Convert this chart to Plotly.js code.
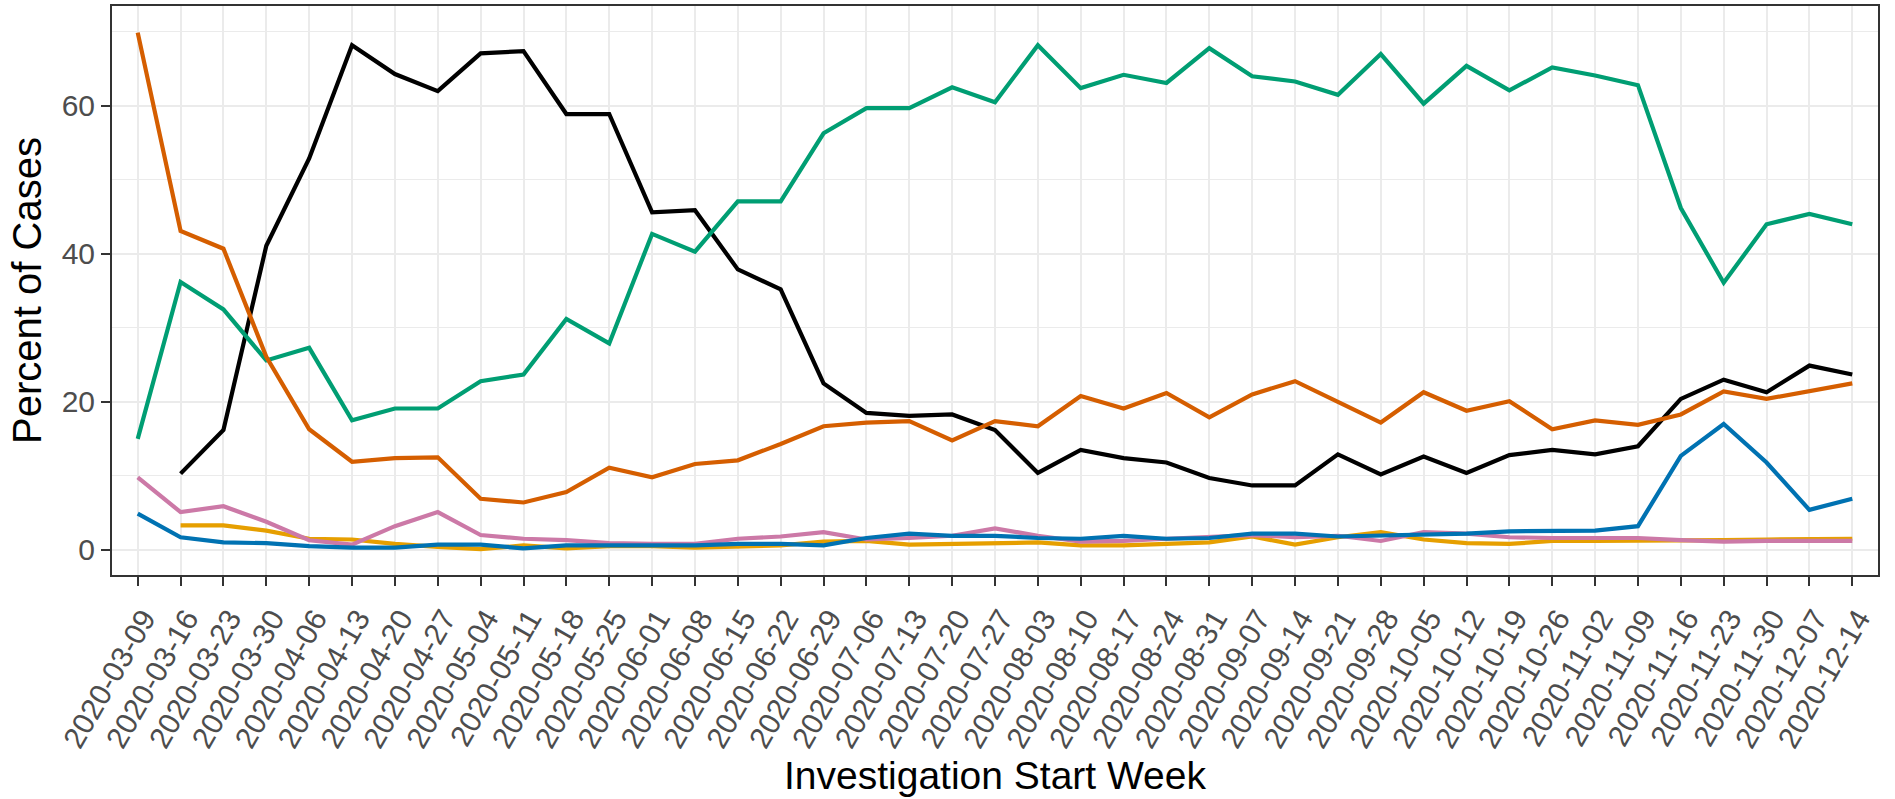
<!DOCTYPE html>
<html>
<head>
<meta charset="utf-8">
<script src="https://cdn.plot.ly/plotly-3.0.1.min.js"></script>
<style>
  html, body { margin: 0; padding: 0; background: #ffffff; }
  #chart { width: 1895px; height: 799px; }
</style>
</head>
<body>
<div id="chart"></div>
<script>
const weeks = ["2020-03-09","2020-03-16","2020-03-23","2020-03-30","2020-04-06","2020-04-13","2020-04-20","2020-04-27",
  "2020-05-04","2020-05-11","2020-05-18","2020-05-25","2020-06-01","2020-06-08","2020-06-15","2020-06-22","2020-06-29",
  "2020-07-06","2020-07-13","2020-07-20","2020-07-27","2020-08-03","2020-08-10","2020-08-17","2020-08-24","2020-08-31",
  "2020-09-07","2020-09-14","2020-09-21","2020-09-28","2020-10-05","2020-10-12","2020-10-19","2020-10-26","2020-11-02",
  "2020-11-09","2020-11-16","2020-11-23","2020-11-30","2020-12-07","2020-12-14"];

const blackSeries = [null, 10.3, 16.2, 41.1, 52.9, 68.2, 64.3, 62.0, 67.1, 67.4, 58.9, 58.9, 45.6, 45.9, 37.9, 35.2, 22.5,
  18.5, 18.1, 18.3, 16.2, 10.4, 13.5, 12.4, 11.8, 9.7, 8.7, 8.7, 12.9, 10.2, 12.6, 10.4, 12.8, 13.5, 12.9, 14.0, 20.4,
  23.0, 21.3, 24.9, 23.7];
const yellowSeries = [null, 3.3, 3.3, 2.6, 1.5, 1.4, 0.8, 0.4, 0.1, 0.6, 0.2, 0.5, 0.5, 0.3, 0.4, 0.6, 1.1, 1.2, 0.7,
  0.8, 1.0, 1.0, 0.6, 0.6, 0.8, 1.0, 1.8, 0.7, 1.7, 2.4, 1.4, 0.9, 0.8, 1.2, 1.2, 1.2, 1.2, 1.3, 1.4, 1.5, 1.5];
const greenSeries = [15.0, 36.2, 32.5, 25.6, 27.3, 17.5, 19.1, 19.1, 22.8, 23.7, 31.2, 27.9, 42.7, 40.3, 47.1, 47.1,
  56.3, 59.7, 59.7, 62.5, 60.5, 68.2, 62.4, 64.2, 63.1, 67.8, 64.0, 63.3, 61.5, 67.0, 60.3, 65.4, 62.1, 65.2, 64.1,
  62.8, 46.2, 36.1, 44.0, 45.4, 44.0];
const orangeSeries = [69.9, 43.1, 40.7, 26.1, 16.3, 11.9, 12.4, 12.5, 6.9, 6.4, 7.8, 11.1, 9.8, 11.6, 12.1, 14.3, 16.7,
  17.2, 17.4, 14.8, 17.4, 16.7, 20.8, 19.1, 21.2, 17.9, 21.0, 22.8, 20.0, 17.2, 21.3, 18.8, 20.1, 16.3, 17.5, 16.9,
  18.3, 21.4, 20.4, 21.4, 22.5];
const pinkSeries = [9.8, 5.1, 5.9, 3.8, 1.3, 0.7, 3.2, 5.1, 2.0, 1.5, 1.3, 0.9, 0.8, 0.8, 1.5, 1.8, 2.4, 1.4, 1.6, 1.9,
  2.9, 1.9, 1.1, 1.2, 1.5, 1.8, 2.0, 1.7, 1.9, 1.2, 2.4, 2.2, 1.7, 1.6, 1.6, 1.6, 1.3, 1.1, 1.2, 1.2, 1.2];
const blueSeries = [4.9, 1.7, 1.0, 0.9, 0.5, 0.3, 0.3, 0.7, 0.7, 0.2, 0.6, 0.6, 0.6, 0.6, 0.8, 0.8, 0.6, 1.6, 2.2, 1.9,
  1.9, 1.6, 1.5, 1.9, 1.5, 1.6, 2.2, 2.2, 1.8, 1.9, 2.0, 2.2, 2.5, 2.5, 2.6, 3.2, 12.7, 17.0, 11.8, 5.4, 6.9];

const yTicks = [0, 20, 40, 60];
const xTitle = "Investigation Start Week";
const yTitle = "Percent of Cases";

const series = [
  {y: blackSeries, color: "#000000"},
  {y: yellowSeries, color: "#E69F00"},
  {y: greenSeries, color: "#009E73"},
  {y: orangeSeries, color: "#D55E00"},
  {y: pinkSeries, color: "#CC79A7"},
  {y: blueSeries, color: "#0072B2"}
];

const traces = series.map(s => ({
  type: "scatter",
  mode: "lines",
  x: weeks,
  y: s.y,
  line: {color: s.color, width: 4.2},
  connectgaps: false,
  showlegend: false,
  hoverinfo: "x+y"
}));

const font = "Liberation Sans, Arial, sans-serif";

const layout = {
  width: 1895,
  height: 799,
  paper_bgcolor: "#ffffff",
  plot_bgcolor: "#ffffff",
  margin: {l: 112, r: 17, t: 6, b: 224},
  showlegend: false,
  xaxis: {
    type: "category",
    categoryorder: "array",
    categoryarray: weeks,
    range: [-0.6, 40.6],
    tickangle: -60,
    tickfont: {family: font, size: 30, color: "#4D4D4D"},
    ticklabelstandoff: 3,
    ticklabelshift: 6,
    ticks: "outside",
    ticklen: 9,
    tickwidth: 2,
    tickcolor: "#333333",
    showgrid: true,
    gridcolor: "#EBEBEB",
    gridwidth: 2,
    showline: true,
    mirror: true,
    linecolor: "#333333",
    linewidth: 2,
    zeroline: false
  },
  yaxis: {
    range: [-3.4, 73.5],
    tickmode: "array",
    tickvals: yTicks,
    ticktext: yTicks.map(String),
    tickfont: {family: font, size: 30, color: "#4D4D4D"},
    ticks: "outside",
    ticklen: 9,
    tickwidth: 2,
    tickcolor: "#333333",
    showgrid: true,
    gridcolor: "#EBEBEB",
    gridwidth: 2,
    minor: {tickmode: "array", tickvals: [10, 30, 50, 70], showgrid: true, gridcolor: "#EBEBEB", gridwidth: 1, ticks: ""},
    showline: true,
    mirror: true,
    linecolor: "#333333",
    linewidth: 2,
    zeroline: false,
    title: {text: yTitle, font: {family: font, size: 40, color: "#000000"}, standoff: 8}
  },
  annotations: [{
    text: xTitle,
    xref: "paper", yref: "paper",
    x: 0.5, y: -0.353,
    xanchor: "center", yanchor: "middle",
    showarrow: false,
    font: {family: font, size: 39, color: "#000000"}
  }]
};

Plotly.newPlot("chart", traces, layout, {displayModeBar: false, staticPlot: true});
</script>
</body>
</html>
